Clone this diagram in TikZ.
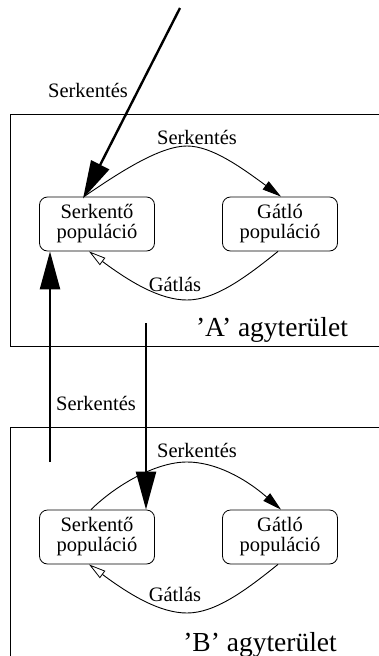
\documentclass[tikz,border=0pt]{standalone}
\usepackage{fontspec}
\setmainfont{Liberation Serif}
\usetikzlibrary{arrows.meta}
\begin{document}
\begin{tikzpicture}[x=1pt,y=-1pt,
  pop/.style={draw,line width=0.8pt,rounded corners=8pt,minimum width=115pt,minimum height=54pt,inner sep=0pt,align=center,font=\fontsize{20.5}{20}\selectfont},
  lbl/.style={font=\fontsize{20.5}{20}\selectfont,inner sep=0pt},
  area/.style={font=\fontsize{27.5}{27}\selectfont,inner sep=0pt},
  region/.style={draw,line width=0.8pt},
  bigarr/.style={line width=2.4pt,-{Triangle[length=38pt,width=20pt]}},
  excite/.style={line width=0.9pt,-{Triangle[length=19pt,width=10pt]}},
  inhib/.style={line width=0.9pt,-{Triangle[open,length=17pt,width=9pt,line width=0.8pt]}}]
\useasboundingbox (0,0) rectangle (379,656);
\clip (0,0) rectangle (379,656);
% regions
\draw[region] (10,114) rectangle (390,346);
\draw[region] (10,427) rectangle (390,670);
% nodes
\node[pop] (A1) at (97,224) {Serkentő\\populáció};
\node[pop] (A2) at (280,224) {Gátló\\populáció};
\node[pop] (B1) at (97,537) {Serkentő\\populáció};
\node[pop] (B2) at (280,537) {Gátló\\populáció};
% labels
\node[lbl] (l0) at (88,90) {Serkentés};
\node[lbl] (lA1) at (197,137) {Serkentés};
\node[lbl] (lA2) at (175,284) {Gátlás};
\node[lbl] (l1) at (96,403) {Serkentés};
\node[lbl] (lB1) at (197,450) {Serkentés};
\node[lbl] (lB2) at (175,594) {Gátlás};
\node[area] (aA) at (272,330) {’A’ agyterület};
\node[area] (aB) at (260,645) {’B’ agyterület};
% coordinates
\coordinate (in0) at (180,8);
\coordinate (up0) at (50,462);
\coordinate (dn0) at (146,323);
% area A edges
\draw[excite] ([xshift=-13pt]A1.north) .. controls (120,172) and (160,146) .. (187,146)
  .. controls (212,146) and (242,168) .. ([xshift=1pt]A2.north);
\draw[inhib] ([xshift=-2pt]A2.south) .. controls (245,278) and (215,300) .. (187,300)
  .. controls (160,300) and (130,282) .. ([xshift=-8pt]A1.south);
% area B edges
\draw[excite] ([xshift=-6pt]B1.north) .. controls (115,486) and (155,462) .. (187,462)
  .. controls (215,462) and (245,478) .. ([xshift=1pt]B2.north);
\draw[inhib] ([xshift=-2pt]B2.south) .. controls (245,591) and (215,613) .. (187,613)
  .. controls (160,613) and (130,595) .. ([xshift=-8pt]B1.south);
% inter-area arrows
\draw[bigarr] (in0) -- ([xshift=-14pt,yshift=-2pt]A1.north);
\draw[bigarr] (up0) -- (up0 |- A1.south);
\draw[bigarr] (dn0) -- (dn0 |- B1.north);
\end{tikzpicture}
\end{document}
